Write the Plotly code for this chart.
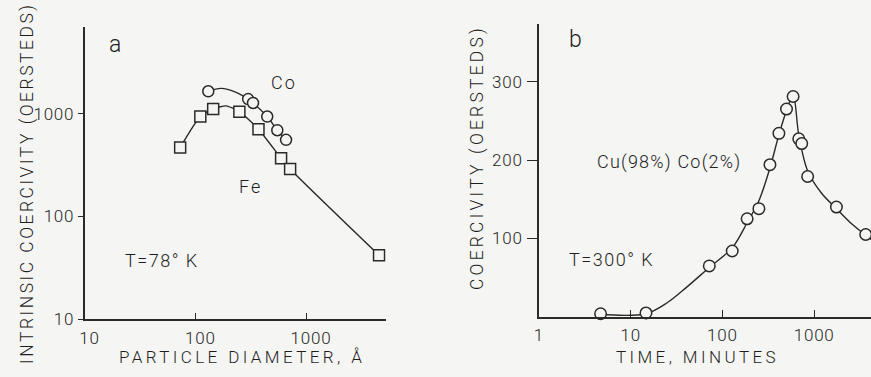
import plotly.graph_objects as go

# ---------------- data: panel a (T = 78 K) ----------------
co_diameter = [131, 300, 332, 446, 550, 660]
co_coercivity = [1650, 1385, 1270, 937, 690, 556]
# drawn Co curve
co_curve_diameter = [131, 171, 234, 300, 332, 446, 550, 660]
co_curve_coercivity = [1650, 1760, 1610, 1385, 1270, 937, 690, 556]

fe_diameter = [73, 111, 145, 250, 372, 595, 718, 4560]
fe_coercivity = [468, 937, 1110, 1045, 706, 368, 290, 42]
# drawn Fe curve
fe_curve_diameter = [73, 111, 145, 190, 250, 372, 595, 718, 4560]
fe_curve_coercivity = [468, 937, 1110, 1190, 1045, 706, 368, 290, 42]

a_tick_vals = [10, 100, 1000]
a_tick_text = ["10", "100", "1000"]

# ---------------- data: panel b (T = 300 K) ----------------
time_minutes = [4.7, 14.7, 72, 128, 186, 250, 330, 413, 500, 590, 680, 733, 850, 1750, 3650]
cuco_coercivity = [4, 5, 65, 84, 125, 138, 194, 234, 265, 281, 227, 221, 179, 140, 105]

# fitted curve drawn in panel b
curve_time = [4.7, 14.7, 25, 40, 72, 128, 186, 250, 330, 413, 500, 590, 680, 850, 1200, 1750, 2600, 3650, 4500]
curve_coercivity = [3, 4, 18, 37, 63, 88, 120, 148, 190, 232, 263, 283, 232, 186, 158, 138, 118, 104, 96]

b_xtick_vals = [1, 10, 100, 1000]
b_xtick_text = ["1", "10", "100", "1000"]
b_ytick_vals = [100, 200, 300]
b_ytick_text = ["100", "200", "300"]

INK = "#2a2a2a"
TEXT_INK = "#1e1e1e"
PAPER = "#f5f5f3"
FONT = "Roboto"


def spaced(text, ls):
    return f'<span style="letter-spacing:{ls}px">{text}</span>'


fig = go.Figure()

# panel a curves, then markers on top
fig.add_trace(go.Scatter(x=co_curve_diameter, y=co_curve_coercivity, mode="lines",
                         line=dict(color=INK, width=1.4, shape="spline", smoothing=0.9),
                         xaxis="x", yaxis="y", showlegend=False))
fig.add_trace(go.Scatter(x=fe_curve_diameter, y=fe_curve_coercivity, mode="lines",
                         line=dict(color=INK, width=1.4, shape="spline", smoothing=0.6),
                         xaxis="x", yaxis="y", showlegend=False))
fig.add_trace(go.Scatter(x=co_diameter, y=co_coercivity, mode="markers",
                         marker=dict(symbol="circle", size=11, color=PAPER, line=dict(width=1.5, color=INK)),
                         xaxis="x", yaxis="y", showlegend=False))
fig.add_trace(go.Scatter(x=fe_diameter, y=fe_coercivity, mode="markers",
                         marker=dict(symbol="square", size=11, color=PAPER, line=dict(width=1.5, color=INK)),
                         xaxis="x", yaxis="y", showlegend=False))

# panel b
fig.add_trace(go.Scatter(x=curve_time, y=curve_coercivity, mode="lines",
                         line=dict(color=INK, width=1.4, shape="spline", smoothing=0.9),
                         xaxis="x2", yaxis="y2", showlegend=False))
fig.add_trace(go.Scatter(x=time_minutes, y=cuco_coercivity, mode="markers",
                         marker=dict(symbol="circle", size=11.5, color=PAPER, line=dict(width=1.5, color=INK)),
                         xaxis="x2", yaxis="y2", showlegend=False, cliponaxis=False))

W, H = 871, 377


def px(x):
    return x / W


def py(y):
    return 1 - y / H


TICK_LS = 0.8
axis_common = dict(showgrid=False, zeroline=False, showline=True, linecolor=INK, linewidth=1.6,
                   tickcolor=INK, tickwidth=1.3,
                   tickfont=dict(family=FONT, size=17, color=TEXT_INK, weight=300))

fig.update_layout(
    width=W, height=H, margin=dict(l=0, r=0, t=0, b=0),
    paper_bgcolor=PAPER, plot_bgcolor=PAPER,
    xaxis=dict(type="log", range=[1, 3.72], domain=[px(80), px(383)], anchor="y",
               tickvals=a_tick_vals, ticktext=[spaced(t, TICK_LS) for t in a_tick_text],
               ticks="inside", ticklen=6, ticklabelstandoff=3, ticklabelshift=5, **axis_common),
    yaxis=dict(type="log", range=[1, 3.84], domain=[py(328), py(28)], anchor="x",
               tickvals=a_tick_vals, ticktext=[spaced(t, TICK_LS) for t in a_tick_text],
               ticks="outside", ticklen=5, ticklabelstandoff=0, **axis_common),
    xaxis2=dict(type="log", range=[0, 3.62], domain=[px(537), 1.0], anchor="y2",
                tickvals=b_xtick_vals, ticktext=[spaced(t, TICK_LS) for t in b_xtick_text],
                ticks="inside", ticklen=7, ticklabelstandoff=2, **axis_common),
    yaxis2=dict(range=[0, 373], domain=[py(325.5), py(25)], anchor="x2",
                tickvals=b_ytick_vals, ticktext=[spaced(t, TICK_LS) for t in b_ytick_text],
                ticks="outside", ticklen=10, ticklabelstandoff=1, **axis_common),
)


def label(text, x, y, size=18, angle=0, ls=1.0, weight=300):
    fig.add_annotation(text=spaced(text, ls), x=px(x), y=py(y), xref="paper", yref="paper",
                       showarrow=False, textangle=angle, xanchor="center", yanchor="middle",
                       font=dict(family=FONT, size=size, color=TEXT_INK, weight=weight))


# panel a texts
label("a", 111, 46, size=23, ls=0)
label("Co", 281, 85, size=18, ls=2)
label("Fe", 247, 192, size=18, ls=2)
label("T=78° K", 158, 268, size=18, ls=1.5)
label("PARTICLE DIAMETER, Å", 238, 367, size=17, ls=3.4)
label("INTRINSIC COERCIVITY (OERSTEDS)", 22, 188, size=17.5, ls=2.5, angle=-90)

# panel b texts
label("b", 574, 41, size=23, ls=0)
label("Cu(98%) Co(2%)", 668, 166, size=18, ls=1.2)
label("T=300° K", 610, 267, size=18, ls=1.5)
label("TIME, MINUTES", 696, 367, size=17, ls=3.4)
label("COERCIVITY (OERSTEDS)", 475, 162, size=17.5, ls=3.2, angle=-90)

fig.write_html("out.html")
